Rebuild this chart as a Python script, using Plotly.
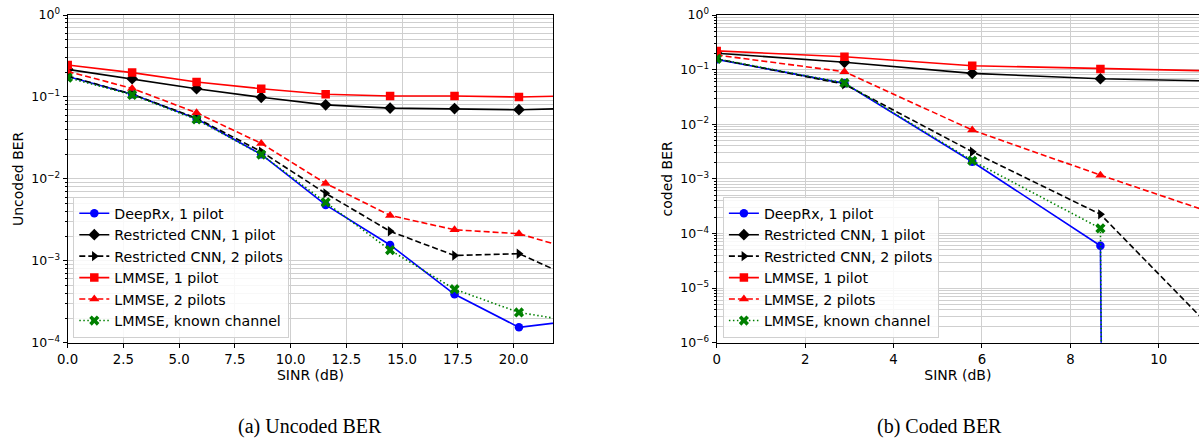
import plotly.graph_objects as go

# ---------------- data ----------------
sinr_db = [0.0, 2.89, 5.78, 8.68, 11.57, 14.46, 17.35, 20.24, 23.14]
sinr_db_coded = [0.0, 2.89, 5.78, 8.68, 11.57]

series_names = ["DeepRx, 1 pilot", "Restricted CNN, 1 pilot", "Restricted CNN, 2 pilots",
                "LMMSE, 1 pilot", "LMMSE, 2 pilots", "LMMSE, known channel"]

# Uncoded BER
deeprx_unc = [0.178, 0.1075, 0.054, 0.0199, 0.0048, 0.00156, 0.00039, 0.000154, 0.000192]
cnn1_unc = [0.217, 0.167, 0.126, 0.099, 0.080, 0.073, 0.072, 0.0698, 0.073]
cnn2_unc = [0.18, 0.108, 0.055, 0.0215, 0.00665, 0.00229, 0.00116, 0.00122, 0.00054]
lmmse1_unc = [0.245, 0.198, 0.152, 0.126, 0.108, 0.1026, 0.1026, 0.0997, 0.104]
lmmse2_unc = [0.205, 0.127, 0.064, 0.0271, 0.0088, 0.00358, 0.00239, 0.00214, 0.00126]
known_unc = [0.172, 0.106, 0.053, 0.0198, 0.00516, 0.00135, 0.00045, 0.000234, 0.000174]

# Coded BER (0 = no errors observed)
deeprx_cod = [0.154, 0.056, 0.00206, 5.96e-5, 0.0]
cnn1_cod = [0.2, 0.136, 0.0855, 0.068, 0.061]
cnn2_cod = [0.157, 0.054, 0.00314, 0.000224, 9e-7]
lmmse1_cod = [0.22, 0.172, 0.118, 0.1026, 0.0935]
lmmse2_cod = [0.185, 0.0916, 0.00783, 0.00117, 0.00019]
known_cod = [0.157, 0.057, 0.00215, 0.000124, 0.0]

x_ticks_unc = [0.0, 2.5, 5.0, 7.5, 10.0, 12.5, 15.0, 17.5, 20.0]
x_ticklabels_unc = ["0.0", "2.5", "5.0", "7.5", "10.0", "12.5", "15.0", "17.5", "20.0"]
x_ticks_cod = [0, 2, 4, 6, 8, 10]
y_ticks_unc = [1, 1e-1, 1e-2, 1e-3, 1e-4]
y_ticklabels_unc = ["10<sup>0</sup>", "10<sup>\u22121</sup>", "10<sup>\u22122</sup>",
                    "10<sup>\u22123</sup>", "10<sup>\u22124</sup>"]
y_ticks_cod = [1, 1e-1, 1e-2, 1e-3, 1e-4, 1e-5, 1e-6]
y_ticklabels_cod = ["10<sup>0</sup>", "10<sup>\u22121</sup>", "10<sup>\u22122</sup>",
                    "10<sup>\u22123</sup>", "10<sup>\u22124</sup>", "10<sup>\u22125</sup>",
                    "10<sup>\u22126</sup>"]

# ---------------- styles ----------------
styles = [
    dict(color="#0000ff", dash="solid", symbol="circle", size=8.5),
    dict(color="#000000", dash="solid", symbol="diamond", size=9),
    dict(color="#000000", dash="6px,3px", symbol="triangle-right", size=9),
    dict(color="#ff0000", dash="solid", symbol="square", size=8.5),
    dict(color="#ff0000", dash="6px,3px", symbol="triangle-up", size=9),
    dict(color="#008000", dash="1.5px,2.5px", symbol="x", size=9),
]


def clip_log(vals):
    # like matplotlib's log-scale clipping of non-positive values
    return [v if v > 0 else 1e-300 for v in vals]


W, H = 1199, 440
FONT = "DejaVu Sans"

fig = go.Figure()
unc = [deeprx_unc, cnn1_unc, cnn2_unc, lmmse1_unc, lmmse2_unc, known_unc]
cod = [deeprx_cod, cnn1_cod, cnn2_cod, lmmse1_cod, lmmse2_cod, known_cod]

for name, vals, st in zip(series_names, unc, styles):
    fig.add_trace(go.Scatter(
        x=sinr_db, y=vals, name=name, mode="lines+markers",
        line=dict(color=st["color"], width=1.6, dash=st["dash"]),
        marker=dict(symbol=st["symbol"], size=st["size"], color=st["color"]),
        xaxis="x", yaxis="y", legend="legend"))

for name, vals, st in zip(series_names, cod, styles):
    fig.add_trace(go.Scatter(
        x=sinr_db_coded, y=clip_log(vals), name=name, mode="lines+markers",
        line=dict(color=st["color"], width=1.6, dash=st["dash"]),
        marker=dict(symbol=st["symbol"], size=st["size"], color=st["color"]),
        xaxis="x2", yaxis="y2", legend="legend2"))

# pixel geometry
def px_x(p):
    return p / W


def px_y(p):
    return (H - p) / H


y_dom = [px_y(342.7), px_y(15)]
grid_c = "#cfcfcf"
xtickfont = dict(family=FONT, size=13.3, color="black")
ytickfont = dict(family=FONT, size=12.5, color="black")
title_font = dict(family=FONT, size=14, color="black")

common_x = dict(showline=True, linecolor="black", linewidth=1.2, ticks="outside", ticklen=4,
                tickcolor="black", showgrid=True, gridcolor=grid_c, gridwidth=1,
                tickfont=xtickfont, zeroline=False, automargin=False,
                title=dict(text="SINR (dB)", font=title_font, standoff=0))
common_y = dict(type="log", showline=True, linecolor="black", linewidth=1.2, ticks="outside",
                ticklen=4, tickcolor="black", showgrid=True, gridcolor=grid_c, gridwidth=1,
                tickfont=ytickfont, zeroline=False, automargin=False,
                minor=dict(dtick="D1", showgrid=True, gridcolor=grid_c, gridwidth=0.8,
                           ticks="outside", ticklen=2, tickcolor="black"))

legend_font = dict(family=FONT, size=14.2, color="black")

fig.update_layout(
    width=W, height=H, margin=dict(l=0, r=0, t=0, b=0, autoexpand=False),
    plot_bgcolor="white", paper_bgcolor="white",
    xaxis=dict(common_x, domain=[px_x(67.7), px_x(553.3)], range=[0, 21.78], anchor="y",
               mirror=True, tickvals=x_ticks_unc, ticktext=x_ticklabels_unc),
    yaxis=dict(common_y, domain=y_dom, range=[-4, 0], anchor="x", mirror=True,
               tickvals=y_ticks_unc, ticktext=y_ticklabels_unc,
               title=dict(text="Uncoded BER", font=title_font, standoff=4)),
    xaxis2=dict(common_x, domain=[px_x(716.7), 1.0], range=[0, 10.91], anchor="y2",
                mirror=True, tickvals=x_ticks_cod),
    yaxis2=dict(common_y, domain=y_dom, range=[-6, 0], anchor="x2", mirror=False,
                tickvals=y_ticks_cod, ticktext=y_ticklabels_cod,
                title=dict(text="coded BER", font=title_font, standoff=4)),
    legend=dict(x=px_x(73.3), y=px_y(337.5), xanchor="left", yanchor="bottom",
                bgcolor="rgba(255,255,255,0.85)", bordercolor="#d0d0d0", borderwidth=1,
                font=legend_font, tracegroupgap=0),
    legend2=dict(x=px_x(722.9), y=px_y(337.5), xanchor="left", yanchor="bottom",
                 bgcolor="rgba(255,255,255,0.85)", bordercolor="#d0d0d0", borderwidth=1,
                 font=legend_font, tracegroupgap=0),
    annotations=[
        dict(text="(a) Uncoded BER", x=px_x(310), y=px_y(426), xref="paper", yref="paper",
             showarrow=False, xanchor="center", yanchor="middle",
             font=dict(family="Liberation Serif", size=20, color="black")),
        dict(text="(b) Coded BER", x=px_x(939), y=px_y(426), xref="paper", yref="paper",
             showarrow=False, xanchor="center", yanchor="middle",
             font=dict(family="Liberation Serif", size=20, color="black")),
    ],
)

fig.write_html("out.html", config={"displayModeBar": False},
               post_script="document.body.style.margin='0';document.body.style.overflow='hidden';")
